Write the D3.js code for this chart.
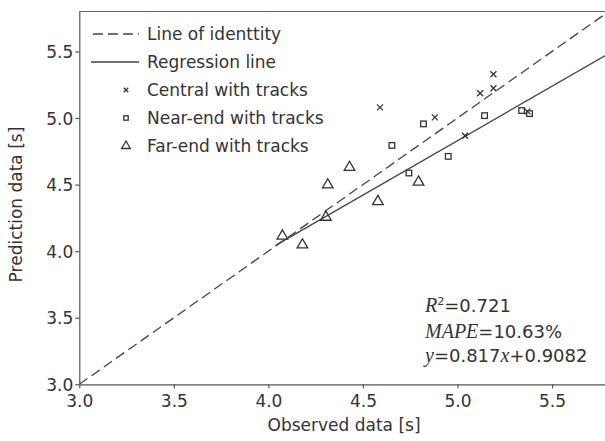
<!DOCTYPE html>
<html>
  <head>
    <meta charset="UTF-8">
    <script src="https://d3js.org/d3.v7.min.js"></script>
    <style type="text/css">
    body {
      margin: 0;
      background: #fff;
      font-family: 'DejaVu Sans', sans-serif;
    }
    </style>
  </head>
  <body>
  </body>
  <script>
    // values
    var centralX = [4.59, 4.88, 5.04, 5.12, 5.19, 5.19, 5.37];
    var centralY = [5.08, 5.005, 4.867, 5.186, 5.329, 5.224, 5.05];
    var nearX = [4.653, 4.743, 4.82, 4.951, 5.143, 5.339, 5.381];
    var nearY = [4.794, 4.587, 4.956, 4.712, 5.018, 5.056, 5.033];
    var farX = [4.074, 4.18, 4.304, 4.314, 4.429, 4.579, 4.794];
    var farY = [4.114, 4.047, 4.255, 4.498, 4.629, 4.373, 4.519];
    var ticks = [3.0, 3.5, 4.0, 4.5, 5.0, 5.5];
    // regression as drawn in the figure (start / end of the solid line)
    var regSlope = 0.817, regIntercept = 0.745;
    var regRange = [4.04, 5.8];
    var legendLabels = ["Line of identtity", "Regression line", "Central with tracks",
                        "Near-end with tracks", "Far-end with tracks"];

    var W = 605, H = 441;
    var margin = {top: 11.5, right: 0, bottom: 56.7, left: 79.3};

    var svg = d3.select("body")
      .append("svg")
        .attr("width", W)
        .attr("height", H);

    var x = d3.scaleLinear()
      .domain([3, 5.78])
      .range([margin.left, W - margin.right]);
    var y = d3.scaleLinear()
      .domain([3, 5.8])
      .range([H - margin.bottom, margin.top]);

    var ink = "#333";

    svg.append("clipPath").attr("id", "plot")
      .append("rect")
        .attr("x", margin.left).attr("y", margin.top)
        .attr("width", W - margin.left - margin.right)
        .attr("height", H - margin.top - margin.bottom);

    // axes
    var xAxis = svg.append("g")
      .attr("transform", "translate(0," + y(3) + ")")
      .call(d3.axisBottom(x).tickValues(ticks).tickFormat(d3.format(".1f")).tickSize(4).tickSizeOuter(0));
    var yAxis = svg.append("g")
      .attr("transform", "translate(" + x(3) + ",0)")
      .call(d3.axisLeft(y).tickValues(ticks).tickFormat(d3.format(".1f")).tickSize(4).tickSizeOuter(0));
    [xAxis, yAxis].forEach(function(a) {
      a.selectAll("path, line").attr("stroke", "#555").attr("stroke-width", 1.2);
      a.selectAll("text").attr("fill", ink).style("font-size", "17px")
        .style("font-family", "'DejaVu Sans', sans-serif");
    });
    xAxis.selectAll("text").attr("dy", "0.95em");
    yAxis.selectAll("text").attr("x", -6).attr("dy", "0.36em");

    // top border
    svg.append("line")
      .attr("x1", x(3)).attr("x2", W)
      .attr("y1", y(5.8)).attr("y2", y(5.8))
      .attr("stroke", "#666").attr("stroke-width", 1.2);

    var plot = svg.append("g").attr("clip-path", "url(#plot)");

    // line of identity
    plot.append("line")
      .attr("x1", x(3)).attr("y1", y(3))
      .attr("x2", x(5.8)).attr("y2", y(5.8))
      .attr("stroke", "#444").attr("stroke-width", 1.3)
      .attr("stroke-dasharray", "10,5");

    // regression line
    plot.append("line")
      .attr("x1", x(regRange[0])).attr("y1", y(regSlope * regRange[0] + regIntercept))
      .attr("x2", x(regRange[1])).attr("y2", y(regSlope * regRange[1] + regIntercept))
      .attr("stroke", "#444").attr("stroke-width", 1.3);

    function marker(sel, kind, s) {
      if (kind == "cross") {
        sel.append("path")
          .attr("d", "M" + (-s) + "," + (-s) + "L" + s + "," + s + "M" + (-s) + "," + s + "L" + s + "," + (-s))
          .attr("stroke", ink).attr("stroke-width", 1.3).attr("fill", "none");
      } else if (kind == "square") {
        sel.append("rect")
          .attr("x", -s).attr("y", -s).attr("width", 2 * s).attr("height", 2 * s)
          .attr("stroke", ink).attr("stroke-width", 1.3).attr("fill", "none");
      } else {
        sel.append("path")
          .attr("d", d3.symbol().type(d3.symbolTriangle).size(s * s * 3.2)())
          .attr("stroke", ink).attr("stroke-width", 1.3).attr("fill", "none");
      }
    }

    function series(xs, ys, kind, s) {
      xs.forEach(function(v, i) {
        var g = plot.append("g").attr("transform", "translate(" + x(v) + "," + y(ys[i]) + ")");
        marker(g, kind, s);
      });
    }
    series(centralX, centralY, "cross", 3);
    series(nearX, nearY, "square", 2.8);
    series(farX, farY, "triangle", 3.9);

    // legend
    var leg = svg.append("g");
    var rowY = [34, 62, 90, 118, 146];
    legendLabels.forEach(function(t, i) {
      leg.append("text")
        .attr("x", 147).attr("y", rowY[i]).attr("dy", "0.36em")
        .attr("fill", ink).style("font-size", "17px")
        .text(t);
    });
    leg.append("line").attr("x1", 93).attr("x2", 139).attr("y1", rowY[0]).attr("y2", rowY[0])
      .attr("stroke", "#444").attr("stroke-width", 1.3).attr("stroke-dasharray", "10,5");
    leg.append("line").attr("x1", 91).attr("x2", 139).attr("y1", rowY[1]).attr("y2", rowY[1])
      .attr("stroke", "#444").attr("stroke-width", 1.3);
    marker(leg.append("g").attr("transform", "translate(126," + rowY[2] + ")"), "cross", 2.3);
    marker(leg.append("g").attr("transform", "translate(126," + rowY[3] + ")"), "square", 2.2);
    marker(leg.append("g").attr("transform", "translate(126," + rowY[4] + ")"), "triangle", 3.2);

    // statistics
    var stats = svg.append("g").style("font-size", "18px").attr("fill", ink);
    var serif = "'Liberation Serif', serif";
    var t1 = stats.append("text").attr("x", 425).attr("y", 312);
    t1.append("tspan").style("font-family", serif).style("font-style", "italic").style("font-size", "20px").text("R");
    t1.append("tspan").attr("dy", -7).style("font-size", "11px").text("2");
    t1.append("tspan").attr("dy", 7).text("=0.721");
    var t2 = stats.append("text").attr("x", 425).attr("y", 338);
    t2.append("tspan").style("font-family", serif).style("font-style", "italic").style("font-size", "20px").text("MAPE");
    t2.append("tspan").text("=10.63%");
    var t3 = stats.append("text").attr("x", 425).attr("y", 362);
    t3.append("tspan").style("font-family", serif).style("font-style", "italic").style("font-size", "20px").text("y");
    t3.append("tspan").text("=0.817");
    t3.append("tspan").style("font-family", serif).style("font-style", "italic").style("font-size", "20px").text("x");
    t3.append("tspan").text("+0.9082");

    // axis titles
    svg.append("text")
      .attr("x", x(4.4)).attr("y", 431)
      .attr("text-anchor", "middle")
      .attr("fill", ink).style("font-size", "17px")
      .text("Observed data [s]");
    svg.append("text")
      .attr("transform", "translate(22," + y(4.35) + ") rotate(-90)")
      .attr("text-anchor", "middle")
      .attr("fill", ink).style("font-size", "17px")
      .text("Prediction data [s]");
  </script>
</html>
